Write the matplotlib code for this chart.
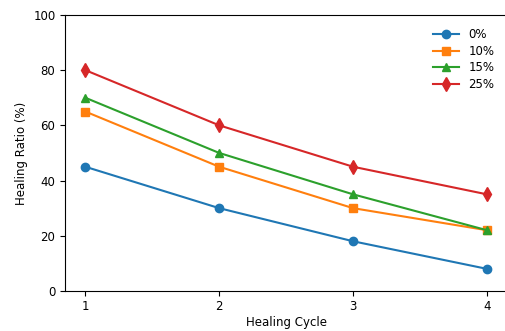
import numpy as np
import matplotlib
matplotlib.use("Agg")
from matplotlib import pyplot as plt

cycles = [1, 2, 3, 4]
labels = ["0%", "10%", "15%", "25%"]
ratio_0 = [45, 30, 18, 8]
ratio_10 = [65, 45, 30, 22]
ratio_15 = [70, 50, 35, 22]
ratio_25 = [80, 60, 45, 35]

plt.rcParams['font.size'] = 8.5

fig = plt.figure(figsize=(5.05, 3.31), dpi=100)
ax = fig.add_axes([0.129, 0.121, 0.875, 0.834])

ax.plot(cycles, ratio_0, marker='o', color='#1f77b4', markersize=6, label=labels[0])
ax.plot(cycles, ratio_10, marker='s', color='#ff7f0e', markersize=6, label=labels[1])
ax.plot(cycles, ratio_15, marker='^', color='#2ca02c', markersize=6, label=labels[2])
ax.plot(cycles, ratio_25, marker='d', color='#d62728', markersize=7, label=labels[3])

ax.set_ylim(0, 100)
ax.set_xticks(cycles)
ax.tick_params(axis='x', pad=3)
ax.set_xlabel("Healing Cycle", labelpad=2)
ax.set_ylabel("Healing Ratio (%)")
ax.legend(frameon=False, loc='upper right', bbox_to_anchor=(0.995, 0.99),
          labelspacing=0.3, handlelength=2.2)

fig.savefig("out.png", dpi=100)
